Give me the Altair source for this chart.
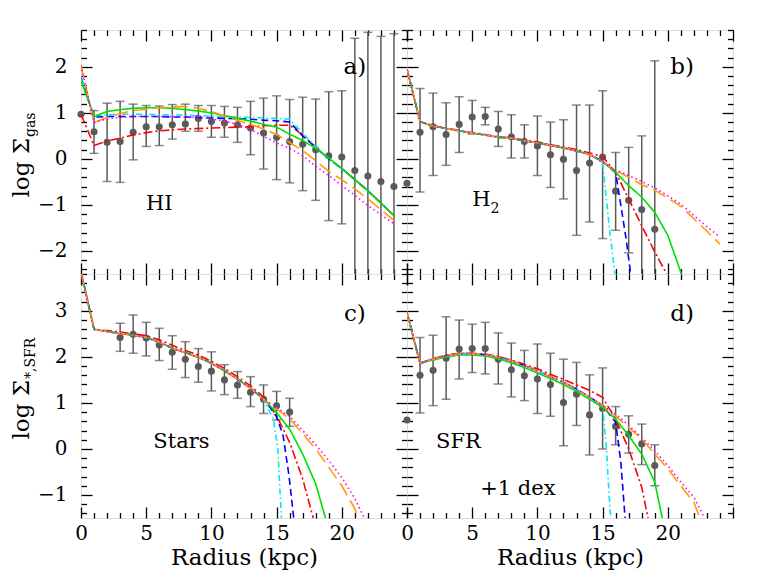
import altair as alt
import pandas as pd

W, H = 326, 244
FONT = "DejaVu Serif"
GRAY = "#5a5a5a"

MODELS = ["red", "blue", "cyan", "green", "orange", "magenta"]
COLORS = ["#ff0000", "#0000ff", "#00e8f5", "#00e000", "#ff9d00", "#ff00ff"]
DASHES = [[9, 3, 2, 3], [7, 4], [6, 3, 1.5, 3], [1, 0], [14, 6], [1.5, 3]]

# ---------------- panel a (HI) ----------------
A_PR = list(range(25))
A_PTS = [0.97, 0.59, 0.36, 0.38, 0.58, 0.70, 0.70, 0.74, 0.76, 0.88, 0.81, 0.78, 0.74,
         0.67, 0.56, 0.47, 0.38, 0.32, 0.20, 0.07, 0.04, -0.25, -0.37, -0.49, -0.60]
A_HI = [None, 1.05, 1.21, 1.25, 1.19, 1.16, 1.15, 1.18, 1.19, 1.16, 1.16, 1.14, 1.12,
        1.25, 1.32, 1.37, 1.29, 1.34, 1.30, 1.46, 1.48, 2.62, 2.75, 2.66, 2.72]
A_LO = [None, 0.12, -0.49, -0.51, -0.02, 0.27, 0.29, 0.43, 0.60, 0.60, 0.47, 0.47, 0.36,
        0.09, -0.22, -0.45, -0.52, -0.69, -0.90, -1.34, -1.41, -3.0, -3.0, -3.0, -3.0]
A_R = list(range(25))
A_RED = [0.97, 0.29, 0.39, 0.45, 0.52, 0.57, 0.61, 0.63, 0.65, 0.66, 0.67, 0.68, 0.69,
         0.70, 0.72, 0.73, 0.73, 0.52, 0.25, 0.00, -0.21, -0.45, -0.69, -0.96, -1.23]
A_BLUE = [1.77, 0.91, 0.92, 0.92, 0.92, 0.92, 0.92, 0.91, 0.91, 0.90, 0.89, 0.88, 0.87,
          0.86, 0.84, 0.83, 0.80, 0.50, 0.25, 0.00, -0.21, -0.45, -0.69, -0.96, -1.23]
A_CYAN = [1.74, 0.94, 0.96, 0.97, 0.97, 0.97, 0.96, 0.96, 0.95, 0.94, 0.93, 0.92, 0.91,
          0.90, 0.89, 0.88, 0.86, 0.56, 0.26, 0.00, -0.21, -0.45, -0.69, -0.96, -1.23]
A_GREEN = [1.70, 0.92, 1.03, 1.07, 1.10, 1.11, 1.11, 1.10, 1.07, 1.04, 1.00, 0.94, 0.88,
           0.82, 0.75, 0.69, 0.54, 0.40, 0.23, 0.02, -0.21, -0.45, -0.69, -0.96, -1.23]
A_ORANGE = [2.03, 0.79, 0.90, 0.98, 1.05, 1.08, 1.11, 1.13, 1.14, 1.10, 1.03, 0.93, 0.84,
            0.75, 0.65, 0.53, 0.36, 0.18, -0.04, -0.27, -0.45, -0.65, -0.87, -1.10, -1.34]
A_MAGENTA = [2.03, 0.79, 0.87, 0.90, 0.92, 0.92, 0.92, 0.92, 0.91, 0.90, 0.87, 0.82, 0.75,
             0.64, 0.49, 0.35, 0.23, 0.07, -0.16, -0.36, -0.58, -0.79, -1.01, -1.21, -1.41]

# ---------------- panel b (H2) ----------------
B_PR = list(range(20))
B_PTS = [-0.53, 0.58, 0.70, 0.53, 0.75, 0.91, 0.92, 0.65, 0.48, 0.38, 0.28, 0.09, -0.01,
         -0.25, -0.09, 0.04, -0.70, -0.90, -1.10, -1.53]
B_HI = [None, 1.53, 1.43, 1.22, 1.35, 1.27, 1.12, 1.03, 0.96, 0.74, 0.93, 0.80, 0.85,
        1.17, 1.17, 1.48, 0.14, 0.25, 0.50, 2.13]
B_LO = [None, -0.72, -0.36, -0.14, 0.14, 0.54, 0.74, 0.27, 0.02, 0.02, -0.36, -0.62, -0.87,
        -1.66, -1.37, -1.73, -1.55, -2.04, -3.0, -3.0]
B_R = list(range(15))
B_BASE = [1.95, 0.81, 0.71, 0.66, 0.61, 0.56, 0.52, 0.47, 0.45, 0.39, 0.35, 0.29, 0.24, 0.17, 0.10]
B_BASE_RED = [1.95, 0.81, 0.72, 0.67, 0.62, 0.57, 0.53, 0.48, 0.46, 0.41, 0.37, 0.31, 0.26, 0.20, 0.13]
B_CYAN_TR, B_CYAN_TV = [15, 15.3, 15.6, 16.0], [-0.08, -0.9, -1.7, -2.6]
B_BLUE_TR, B_BLUE_TV = [15, 16, 16.4, 16.8, 17.2], [-0.05, -0.30, -1.01, -1.73, -2.6]
B_RED_TR, B_RED_TV = [15, 16, 17, 18, 19, 20.1], [0.05, -0.29, -0.87, -1.45, -2.02, -2.6]
B_GREEN_TR = [15, 16, 17, 18, 19, 20, 21, 21.1]
B_GREEN_TV = [-0.07, -0.29, -0.58, -0.83, -1.16, -1.66, -2.46, -2.6]
B_ORANGE_TR = [15, 16, 17, 18, 19, 20, 21, 22, 23, 24]
B_ORANGE_TV = [-0.07, -0.25, -0.40, -0.56, -0.68, -0.85, -1.03, -1.30, -1.57, -1.85]
B_MAGENTA_TR = [15, 16, 17, 18, 19, 20, 21, 22, 23, 24]
B_MAGENTA_TV = [-0.07, -0.24, -0.36, -0.49, -0.63, -0.80, -0.98, -1.23, -1.47, -1.70]

# ---------------- panel c (Stars) ----------------
C_PR = list(range(3, 17))
C_PTS = [2.42, 2.49, 2.41, 2.26, 2.10, 1.95, 1.79, 1.69, 1.50, 1.39, 1.23, 1.08, 0.94, 0.80]
C_HI = [2.73, 2.91, 2.75, 2.62, 2.46, 2.33, 2.18, 2.11, 1.83, 1.68, 1.57, 1.39, 1.25, 1.10]
C_LO = [2.12, 2.08, 2.02, 1.92, 1.73, 1.55, 1.45, 1.26, 1.18, 1.10, 0.92, 0.77, 0.63, 0.49]
C_R = list(range(15))
C_BASE = [3.85, 2.60, 2.55, 2.51, 2.47, 2.42, 2.32, 2.19, 2.09, 1.99, 1.86, 1.70, 1.52, 1.32, 1.08]
C_BASE_RED = [3.85, 2.60, 2.57, 2.54, 2.50, 2.46, 2.37, 2.25, 2.14, 2.04, 1.90, 1.75, 1.57, 1.37, 1.13]
C_CYAN_TR, C_CYAN_TV = [14.1, 14.75, 15.1, 15.25, 15.4], [1.01, 0.65, 0.0, -0.87, -1.6]
C_BLUE_TR, C_BLUE_TV = [14.4, 15.0, 15.5, 15.95, 16.35], [0.94, 0.70, 0.29, -0.58, -1.6]
C_RED_TR, C_RED_TV = [15, 16, 17, 17.9], [0.72, 0.14, -0.65, -1.6]
C_GREEN_TR, C_GREEN_TV = [15, 16, 17, 18, 18.85], [0.79, 0.43, -0.11, -0.76, -1.6]
C_ORANGE_TR = [15, 16, 17, 18, 19, 20, 21, 21.4]
C_ORANGE_TV = [0.87, 0.65, 0.33, 0.0, -0.40, -0.80, -1.30, -1.6]
C_MAGENTA_TR = [15, 16, 17, 18, 19, 20, 21, 21.9]
C_MAGENTA_TV = [0.90, 0.71, 0.40, 0.09, -0.25, -0.62, -1.08, -1.6]

# ---------------- panel d (SFR) ----------------
D_PR = list(range(20))
D_PTS = [0.63, 1.60, 1.71, 1.97, 2.17, 2.18, 2.18, 1.95, 1.72, 1.59, 1.52, 1.40, 1.01,
         1.19, 0.74, 0.88, 0.49, 0.32, 0.11, -0.36]
D_HI = [None, 2.42, 2.47, 2.87, 2.80, 2.71, 2.75, 2.52, 2.30, 2.14, 2.28, 2.08, 1.95,
        1.88, 1.61, 1.76, 0.92, 0.72, 0.54, 0.09]
D_LO = [None, 0.78, 0.94, 1.08, 1.52, 1.66, 1.63, 1.41, 1.13, 1.05, 0.77, 0.71, 0.07,
        0.51, -0.13, 0.0, 0.09, -0.09, -0.34, -0.80]
D_R = list(range(16))
D_BASE = [2.96, 1.87, 1.95, 2.02, 2.07, 2.07, 2.05, 1.99, 1.91, 1.81, 1.70, 1.57, 1.45, 1.30, 1.13, 0.94]
D_BASE_RED = [2.96, 1.85, 1.96, 2.04, 2.08, 2.08, 2.06, 2.01, 1.93, 1.84, 1.74, 1.62, 1.51, 1.39, 1.27, 1.12]
D_BASE_GREEN = [2.96, 1.87, 1.93, 2.00, 2.04, 2.04, 2.02, 1.96, 1.87, 1.77, 1.65, 1.53, 1.40, 1.25, 1.08, 0.90]
D_CYAN_TR, D_CYAN_TV = [15.3, 15.5, 15.65], [0.0, -1.01, -1.6]
D_BLUE_TR, D_BLUE_TV = [16, 16.4, 16.75], [0.58, -0.29, -1.6]
D_RED_TR, D_RED_TV = [16, 17, 18, 18.55], [0.65, 0.0, -0.83, -1.6]
D_GREEN_TR, D_GREEN_TV = [16, 17, 18, 19, 19.65], [0.65, 0.29, -0.11, -0.72, -1.6]
D_ORANGE_TR = [16, 17, 18, 19, 20, 21, 22, 22.6]
D_ORANGE_TV = [0.71, 0.47, 0.22, -0.11, -0.43, -0.80, -1.16, -1.6]
D_MAGENTA_TR = [16, 17, 18, 19, 20, 21, 22, 23.0]
D_MAGENTA_TV = [0.76, 0.51, 0.25, -0.04, -0.36, -0.72, -1.05, -1.6]

# annotation texts: (text, R, value, font size)
A_TXT = [("HI", 6.0, -0.98, 21), ("a)", 21.0, 2.0, 23)]
B_TXT = [("H", 5.7, -0.9, 21), ("2", 6.75, -1.09, 14), ("b)", 21.1, 2.0, 23)]
C_TXT = [("Stars", 7.7, 0.14, 21), ("c)", 21.0, 2.93, 23)]
D_TXT = [("SFR", 3.95, 0.14, 21), ("+1 dex", 8.5, -0.87, 21), ("d)", 21.1, 2.93, 23)]

X_DOMAIN = [0, 25]
Y_TOP = [-2.5, 2.8]
Y_BOT = [-1.5, 3.8]
X_LABELS = [0, 5, 10, 15, 20]
Y_TOP_LABELS = [-2, -1, 0, 1, 2]
Y_BOT_LABELS = [-1, 0, 1, 2, 3]
X_TICKS = list(range(0, 26))


def y_ticks(dom):
    lo = int(round(dom[0] * 5))
    hi = int(round(dom[1] * 5))
    return [round(k / 5, 1) for k in range(lo, hi + 1)]


def tick_size(test):
    return {"condition": {"test": test, "value": 11}, "value": 5.5}


MAJ_X = "abs(datum.value % 5) < 0.001"
MAJ_Y = "abs(datum.value - round(datum.value)) < 0.001"


def xt_axis(orient):
    return alt.Axis(orient=orient, offset=-H, values=X_TICKS, labels=False, domain=False,
                    grid=False, title="", tickColor="black", tickWidth=1.3,
                    tickSize=tick_size(MAJ_X))


def yt_axis(orient, dom):
    return alt.Axis(orient=orient, offset=-W, values=y_ticks(dom), labels=False, domain=False,
                    grid=False, title="", tickColor="black", tickWidth=1.3,
                    tickSize=tick_size(MAJ_Y))


def line_frame(parts):
    rows = []
    for model, rs, vs in parts:
        for k, (r, v) in enumerate(zip(rs, vs)):
            rows.append({"model": model, "R": r, "v": v, "i": k})
    return pd.DataFrame(rows)


def panel(pr, pts, lo, hi, parts, texts, ydom, show_x, ylabels, ytitle):
    xs = alt.Scale(domain=X_DOMAIN, nice=False, zero=False)
    ys = alt.Scale(domain=ydom, nice=False, zero=False)
    pdf = pd.DataFrame({"R": pr, "v": pts})
    edf = pd.DataFrame({"R": pr, "lo": lo, "hi": hi}).dropna()
    ldf = line_frame(parts)
    tdf = pd.DataFrame(texts, columns=["t", "R", "v", "fs"])

    if show_x:
        xlab = alt.Axis(orient="bottom", values=X_LABELS, ticks=False, tickSize=0, domain=False,
                        grid=False, labelFont=FONT, labelFontSize=20, labelColor="black",
                        labelPadding=5, labelFlush=False, format="d", title="Radius (kpc)",
                        titleFont=FONT, titleFontSize=23, titleFontWeight="normal",
                        titleColor="black", titlePadding=3)
    else:
        xlab = None
    if ylabels:
        ylab = alt.Axis(orient="left", values=ylabels, ticks=False, tickSize=0, domain=False,
                        grid=False, labelFont=FONT, labelFontSize=20, labelColor="black",
                        labelPadding=14, labelFlush=False, format="d", title="")
    else:
        ylab = None

    err = alt.Chart(edf).mark_rule(clip=True, color=GRAY, strokeWidth=1.5).encode(
        x=alt.X("R:Q", scale=xs, axis=xt_axis("top")),
        y=alt.Y("lo:Q", scale=ys, axis=yt_axis("right", ydom)),
        y2="hi:Q",
    )
    cap_lo = alt.Chart(edf).mark_tick(clip=True, color=GRAY, orient="horizontal", size=9,
                                      thickness=1.5).encode(
        x=alt.X("R:Q", scale=xs, axis=xt_axis("bottom")),
        y=alt.Y("lo:Q", scale=ys, axis=yt_axis("left", ydom)),
    )
    cap_hi = alt.Chart(edf).mark_tick(clip=True, color=GRAY, orient="horizontal", size=9,
                                      thickness=1.5).encode(
        x=alt.X("R:Q", scale=xs, axis=xlab),
        y=alt.Y("hi:Q", scale=ys, axis=ylab),
    )
    pts_l = alt.Chart(pdf).mark_circle(size=50, color=GRAY, opacity=1).encode(
        x=alt.X("R:Q", scale=xs, axis=None),
        y=alt.Y("v:Q", scale=ys, axis=None),
    )
    lines = alt.Chart(ldf).mark_line(clip=True, strokeWidth=1.6).encode(
        x=alt.X("R:Q", scale=xs, axis=None),
        y=alt.Y("v:Q", scale=ys, axis=None),
        color=alt.Color("model:N", scale=alt.Scale(domain=MODELS, range=COLORS), legend=None),
        strokeDash=alt.StrokeDash("model:N", scale=alt.Scale(domain=MODELS, range=DASHES),
                                  legend=None),
        order=alt.Order("i:Q"),
    )
    txt = alt.Chart(tdf).mark_text(font=FONT, color="black", baseline="middle").encode(
        x=alt.X("R:Q", scale=xs, axis=None),
        y=alt.Y("v:Q", scale=ys, axis=None),
        text="t:N",
        size=alt.Size("fs:Q", scale=None, legend=None),
    )
    layers = [err, cap_lo, cap_hi, pts_l, lines, txt]
    if ytitle:
        main, sub, join = ytitle
        tdf2 = pd.DataFrame({"m": [main], "s": [sub]})
        layers.append(alt.Chart(tdf2).mark_text(font=FONT, fontSize=23, angle=270, align="right",
                                                baseline="alphabetic", color="black").encode(
            x=alt.value(-52), y=alt.value(join), text="m:N"))
        layers.append(alt.Chart(tdf2).mark_text(font=FONT, fontSize=14, angle=270, align="left",
                                                baseline="alphabetic", dy=6, color="black").encode(
            x=alt.value(-52), y=alt.value(join - 1), text="s:N"))
    return alt.layer(*layers).resolve_axis(x="independent", y="independent").properties(
        width=W, height=H)


pa = panel(A_PR, A_PTS, A_LO, A_HI,
           [("red", A_R, A_RED), ("blue", A_R, A_BLUE), ("cyan", A_R, A_CYAN),
            ("green", A_R, A_GREEN), ("orange", A_R, A_ORANGE), ("magenta", A_R, A_MAGENTA)],
           A_TXT, Y_TOP, False, Y_TOP_LABELS, ("log Σ", "gas", 108))
pb = panel(B_PR, B_PTS, B_LO, B_HI,
           [("red", B_R + B_RED_TR, B_BASE_RED + B_RED_TV),
            ("blue", B_R + B_BLUE_TR, B_BASE + B_BLUE_TV),
            ("cyan", B_R + B_CYAN_TR, B_BASE + B_CYAN_TV),
            ("green", B_R + B_GREEN_TR, B_BASE + B_GREEN_TV),
            ("orange", B_R + B_ORANGE_TR, B_BASE + B_ORANGE_TV),
            ("magenta", B_R + B_MAGENTA_TR, B_BASE + B_MAGENTA_TV)],
           B_TXT, Y_TOP, False, None, None)
pc = panel(C_PR, C_PTS, C_LO, C_HI,
           [("red", C_R + C_RED_TR, C_BASE_RED + C_RED_TV),
            ("blue", C_R + C_BLUE_TR, C_BASE + C_BLUE_TV),
            ("cyan", C_R + C_CYAN_TR, C_BASE + C_CYAN_TV),
            ("green", C_R + C_GREEN_TR, C_BASE + C_GREEN_TV),
            ("orange", C_R + C_ORANGE_TR, C_BASE + C_ORANGE_TV),
            ("magenta", C_R + C_MAGENTA_TR, C_BASE + C_MAGENTA_TV)],
           C_TXT, Y_BOT, True, Y_BOT_LABELS, ("log Σ", "*,SFR", 106))
pd_ = panel(D_PR, D_PTS, D_LO, D_HI,
            [("red", D_R + D_RED_TR, D_BASE_RED + D_RED_TV),
             ("blue", D_R + D_BLUE_TR, D_BASE + D_BLUE_TV),
             ("cyan", D_R + D_CYAN_TR, D_BASE + D_CYAN_TV),
             ("green", D_R + D_GREEN_TR, D_BASE_GREEN + D_GREEN_TV),
             ("orange", D_R + D_ORANGE_TR, D_BASE + D_ORANGE_TV),
             ("magenta", D_R + D_MAGENTA_TR, D_BASE + D_MAGENTA_TV)],
            D_TXT, Y_BOT, True, None, None)

chart = alt.ConcatChart(concat=[pa, pb, pc, pd_], columns=2, spacing=0, bounds="flush").properties(
    padding={"left": 2, "top": 20, "right": 10, "bottom": 5}
).configure_view(stroke="black", strokeWidth=1.5).configure(font=FONT)

chart.save("out.html", embed_options={"renderer": "svg", "actions": False})
